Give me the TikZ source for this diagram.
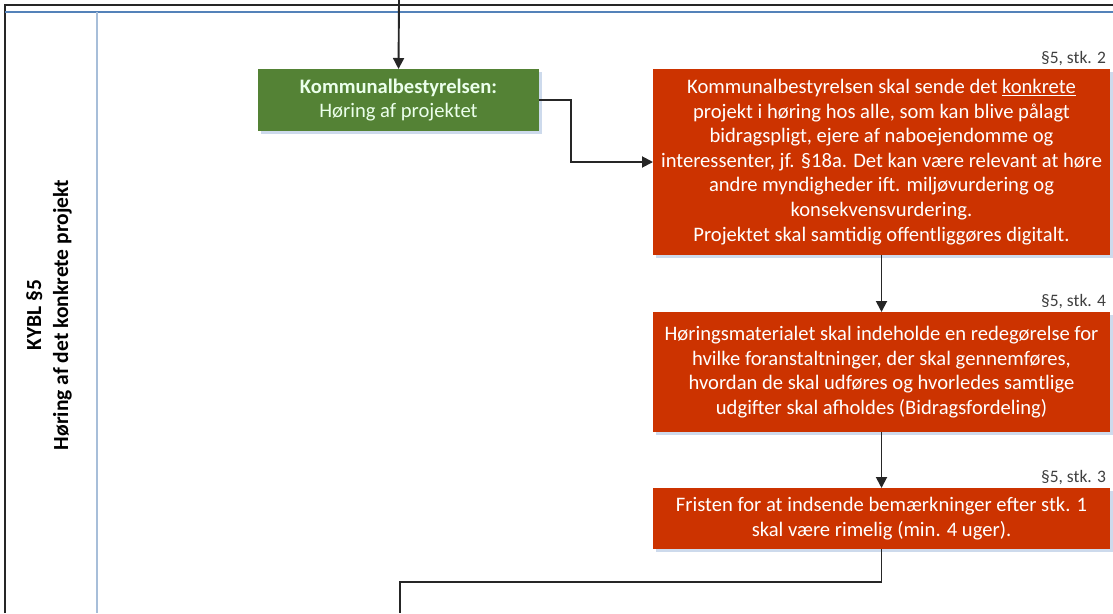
\documentclass[tikz,border=0pt]{standalone}
\usepackage{fontspec}
\setmainfont{Carlito}
\usetikzlibrary{arrows.meta}
\definecolor{boxred}{RGB}{204,51,0}
\definecolor{boxgreen}{RGB}{84,130,53}
\definecolor{lanedark}{RGB}{84,130,185}
\definecolor{lanelight}{RGB}{167,190,217}
\definecolor{shadowblue}{RGB}{205,218,236}
\definecolor{reftext}{RGB}{64,64,64}
\begin{document}
\begin{tikzpicture}[x=1pt,y=-1pt,
  every node/.style={inner sep=0pt, outer sep=0pt},
  basefont/.style={font=\fontsize{20.6}{24.6}\selectfont},
  redbox/.style={basefont, fill=boxred, text=white, align=center, anchor=north west,
    minimum width=457pt},
  greenbox/.style={basefont, fill=boxgreen, text=white!92!green, align=center, anchor=north west,
    minimum width=281pt, minimum height=62pt},
  shadowbox/.style={fill=shadowblue},
  reflabel/.style={font=\fontsize{17.5}{20}\selectfont, text=reftext, anchor=base east},
  flow/.style={line width=1.9pt, draw=black!85},
  arrowflow/.style={flow, -{Triangle[length=11pt,width=11pt]}},
  frameline/.style={line width=2pt, draw=black!85},
  lanelineA/.style={line width=1.5pt, draw=lanedark},
  lanelineB/.style={line width=2pt, draw=lanelight}]
\useasboundingbox (0,0) rectangle (1113,613);

% frame and lane lines
\draw[frameline] (5,613) -- (5,5) -- (1113,5);
\draw[lanelineA] (5,12) -- (1113,12);
\draw[lanelineB] (97,12) -- (97,613);

% lane label
\node[rotate=90, align=center, font=\fontsize{21.5}{27}\selectfont\bfseries] (lane) at (49,315)
  {KYBL §5\\Høring af det konkrete projekt};

% shadows
\fill[shadowbox] (261,72) rectangle (542,134);
\fill[shadowbox] (656,72) rectangle (1113,258);
\fill[shadowbox] (656,315) rectangle (1113,435);
\fill[shadowbox] (656,491) rectangle (1113,552);

% boxes
\node[greenbox] (g) at (258,69) {\textbf{Kommunalbestyrelsen:}\\Høring af projektet};

\node[redbox, minimum height=186pt] (b1) at (653,69)
  {Kommunalbestyrelsen skal sende det \underline{konkrete}\\
   projekt i høring hos alle, som kan blive pålagt\\
   bidragspligt, ejere af naboejendomme og\\
   interessenter, jf. §18a. Det kan være relevant at høre\\
   andre myndigheder ift. miljøvurdering og\\
   konsekvensvurdering.\\
   Projektet skal samtidig offentliggøres digitalt.};

\node[redbox, minimum height=120pt] (b2) at (653,312)
  {Høringsmaterialet skal indeholde en redegørelse for\\
   hvilke foranstaltninger, der skal gennemføres,\\
   hvordan de skal udføres og hvorledes samtlige\\
   udgifter skal afholdes (Bidragsfordeling)};

\node[redbox, minimum height=61pt] (b3) at (653,488)
  {Fristen for at indsende bemærkninger efter stk. 1\\
   skal være rimelig (min. 4 uger).};

% reference labels
\node[reflabel] (l1) at (1106,63) {§5, stk. 2};
\node[reflabel] (l2) at (1106,306) {§5, stk. 4};
\node[reflabel] (l3) at (1106,482) {§5, stk. 3};

% connectors
\coordinate (topin) at (399,0);
\coordinate (bottomout) at (400,613);
\draw[arrowflow] (topin) -- (g.north);
\draw[arrowflow] (g.east) -- ++(32,0) |- (b1.west);
\draw[arrowflow] (b1.south) -- (b2.north);
\draw[arrowflow] (b2.south) -- (b3.north);
\draw[flow] (b3.south) -- (b3.south |- 0,582) -| (bottomout);
\end{tikzpicture}
\end{document}
